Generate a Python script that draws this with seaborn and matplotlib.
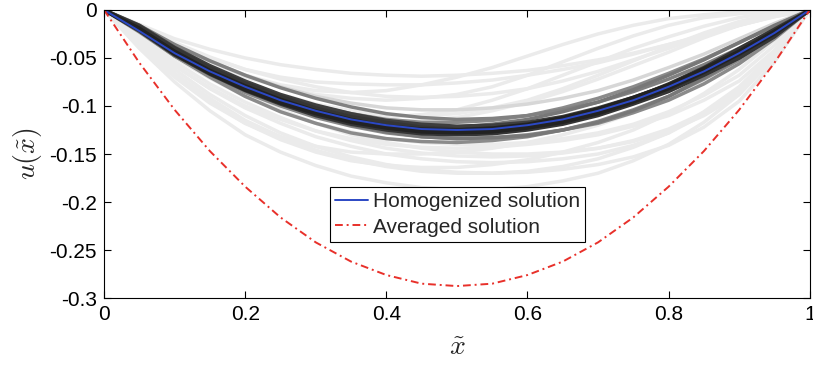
import numpy as np
import matplotlib
matplotlib.use("Agg")
import matplotlib.pyplot as plt
import seaborn as sns

x_vals = [0, 0.05, 0.1, 0.15, 0.2, 0.25, 0.3, 0.35, 0.4, 0.45, 0.5,
          0.55, 0.6, 0.65, 0.7, 0.75, 0.8, 0.85, 0.9, 0.95, 1]

# homogenized and averaged solutions
u_homog = [0, -0.022, -0.045, -0.064, -0.080, -0.094, -0.105, -0.114, -0.120, -0.124, -0.125,
           -0.124, -0.120, -0.114, -0.105, -0.094, -0.080, -0.064, -0.045, -0.024, 0]
u_avg = [0, -0.055, -0.104, -0.147, -0.184, -0.216, -0.242, -0.262, -0.276, -0.285, -0.2875,
         -0.285, -0.276, -0.262, -0.242, -0.216, -0.184, -0.147, -0.104, -0.055, 0]

# individual realizations
band_curves = [
    [0, -0.018, -0.040, -0.062, -0.079, -0.093, -0.104, -0.113, -0.119, -0.123, -0.125, -0.124, -0.121, -0.115, -0.107, -0.096, -0.083, -0.067, -0.048, -0.026, 0],
    [0, -0.020, -0.044, -0.066, -0.083, -0.097, -0.108, -0.117, -0.123, -0.127, -0.128, -0.127, -0.123, -0.117, -0.108, -0.096, -0.082, -0.065, -0.046, -0.025, 0],
    [0, -0.017, -0.040, -0.060, -0.076, -0.090, -0.102, -0.111, -0.117, -0.122, -0.124, -0.123, -0.120, -0.114, -0.106, -0.095, -0.082, -0.067, -0.050, -0.028, 0],
    [0, -0.021, -0.046, -0.066, -0.083, -0.096, -0.107, -0.115, -0.121, -0.124, -0.125, -0.123, -0.119, -0.112, -0.103, -0.091, -0.078, -0.061, -0.043, -0.022, 0],
    [0, -0.019, -0.043, -0.063, -0.079, -0.093, -0.105, -0.114, -0.121, -0.125, -0.127, -0.126, -0.122, -0.115, -0.106, -0.094, -0.080, -0.063, -0.044, -0.023, 0],
    [0, -0.022, -0.047, -0.067, -0.084, -0.098, -0.110, -0.119, -0.125, -0.129, -0.130, -0.129, -0.125, -0.119, -0.110, -0.098, -0.085, -0.068, -0.050, -0.027, 0],
    [0, -0.016, -0.039, -0.058, -0.074, -0.088, -0.099, -0.108, -0.115, -0.119, -0.121, -0.120, -0.117, -0.111, -0.102, -0.091, -0.078, -0.062, -0.045, -0.024, 0],
    [0, -0.020, -0.045, -0.065, -0.081, -0.095, -0.106, -0.115, -0.122, -0.125, -0.126, -0.125, -0.121, -0.114, -0.104, -0.092, -0.077, -0.060, -0.040, -0.020, 0],
]
mid_curves = [
    [0, -0.022, -0.048, -0.070, -0.090, -0.106, -0.118, -0.128, -0.134, -0.137, -0.138, -0.136, -0.132, -0.125, -0.116, -0.104, -0.090, -0.072, -0.052, -0.028, 0],
    [0, -0.016, -0.036, -0.053, -0.068, -0.081, -0.092, -0.101, -0.108, -0.112, -0.114, -0.113, -0.110, -0.104, -0.096, -0.085, -0.072, -0.057, -0.040, -0.021, 0],
    [0, -0.020, -0.042, -0.061, -0.078, -0.092, -0.104, -0.112, -0.118, -0.121, -0.122, -0.119, -0.114, -0.106, -0.096, -0.083, -0.068, -0.052, -0.034, -0.016, 0],
    [0, -0.023, -0.048, -0.068, -0.086, -0.100, -0.112, -0.121, -0.128, -0.132, -0.134, -0.133, -0.130, -0.125, -0.118, -0.107, -0.094, -0.077, -0.056, -0.030, 0],
    [0, -0.018, -0.040, -0.059, -0.076, -0.089, -0.100, -0.108, -0.114, -0.117, -0.117, -0.115, -0.110, -0.102, -0.092, -0.080, -0.066, -0.051, -0.034, -0.017, 0],
    [0, -0.021, -0.045, -0.065, -0.082, -0.097, -0.110, -0.120, -0.127, -0.132, -0.134, -0.133, -0.131, -0.125, -0.117, -0.105, -0.090, -0.071, -0.050, -0.026, 0],
]
outlier_curves = [
    [0, -0.015, -0.030, -0.041, -0.050, -0.057, -0.062, -0.066, -0.068, -0.069, -0.068, -0.066, -0.063, -0.058, -0.052, -0.045, -0.036, -0.027, -0.016, -0.007, 0],
    [0, -0.018, -0.036, -0.050, -0.062, -0.070, -0.075, -0.077, -0.078, -0.078, -0.076, -0.073, -0.068, -0.062, -0.055, -0.046, -0.036, -0.026, -0.016, -0.007, 0],
    [0, -0.020, -0.040, -0.056, -0.070, -0.080, -0.088, -0.092, -0.094, -0.092, -0.088, -0.080, -0.068, -0.054, -0.040, -0.027, -0.016, -0.008, -0.004, -0.001, 0],
    [0, -0.019, -0.041, -0.059, -0.075, -0.088, -0.098, -0.105, -0.110, -0.110, -0.108, -0.102, -0.094, -0.082, -0.068, -0.053, -0.038, -0.024, -0.012, -0.004, 0],
    [0, -0.022, -0.045, -0.065, -0.082, -0.095, -0.106, -0.112, -0.116, -0.115, -0.112, -0.105, -0.096, -0.085, -0.072, -0.058, -0.044, -0.029, -0.016, -0.006, 0],
    [0, -0.016, -0.034, -0.049, -0.062, -0.072, -0.080, -0.086, -0.090, -0.091, -0.090, -0.087, -0.082, -0.074, -0.064, -0.052, -0.040, -0.027, -0.014, -0.005, 0],
    [0, -0.017, -0.037, -0.053, -0.068, -0.080, -0.090, -0.097, -0.102, -0.104, -0.104, -0.102, -0.098, -0.092, -0.084, -0.073, -0.060, -0.046, -0.030, -0.014, 0],
    [0, -0.020, -0.043, -0.063, -0.080, -0.093, -0.104, -0.110, -0.112, -0.109, -0.104, -0.094, -0.082, -0.068, -0.054, -0.040, -0.028, -0.017, -0.008, -0.002, 0],
    [0, -0.018, -0.038, -0.055, -0.068, -0.078, -0.084, -0.086, -0.084, -0.078, -0.070, -0.060, -0.048, -0.036, -0.025, -0.016, -0.009, -0.005, -0.002, -0.001, 0],
    [0, -0.040, -0.075, -0.105, -0.130, -0.148, -0.162, -0.173, -0.180, -0.185, -0.187, -0.187, -0.184, -0.178, -0.170, -0.157, -0.140, -0.117, -0.088, -0.048, 0],
    [0, -0.034, -0.066, -0.092, -0.115, -0.132, -0.146, -0.156, -0.163, -0.168, -0.170, -0.170, -0.168, -0.163, -0.155, -0.143, -0.128, -0.106, -0.080, -0.044, 0],
    [0, -0.030, -0.058, -0.082, -0.102, -0.118, -0.132, -0.142, -0.150, -0.155, -0.158, -0.159, -0.158, -0.155, -0.150, -0.141, -0.128, -0.109, -0.085, -0.048, 0],
    [0, -0.036, -0.068, -0.095, -0.118, -0.135, -0.148, -0.157, -0.162, -0.164, -0.164, -0.161, -0.156, -0.148, -0.138, -0.125, -0.108, -0.087, -0.062, -0.032, 0],
    [0, -0.028, -0.054, -0.077, -0.096, -0.112, -0.126, -0.136, -0.144, -0.149, -0.152, -0.153, -0.152, -0.149, -0.144, -0.136, -0.124, -0.107, -0.084, -0.048, 0],
    [0, -0.026, -0.050, -0.071, -0.090, -0.105, -0.118, -0.127, -0.134, -0.138, -0.140, -0.140, -0.138, -0.134, -0.128, -0.119, -0.106, -0.089, -0.068, -0.037, 0],
    [0, -0.030, -0.058, -0.081, -0.100, -0.114, -0.126, -0.134, -0.140, -0.143, -0.144, -0.143, -0.140, -0.136, -0.130, -0.121, -0.110, -0.094, -0.074, -0.042, 0],
    [0, -0.038, -0.070, -0.097, -0.118, -0.132, -0.142, -0.148, -0.150, -0.150, -0.148, -0.144, -0.138, -0.130, -0.120, -0.107, -0.092, -0.073, -0.052, -0.027, 0],
    [0, -0.024, -0.048, -0.069, -0.088, -0.104, -0.118, -0.130, -0.138, -0.144, -0.148, -0.150, -0.150, -0.148, -0.144, -0.137, -0.126, -0.110, -0.088, -0.050, 0],
    [0, -0.032, -0.062, -0.088, -0.110, -0.128, -0.142, -0.153, -0.161, -0.166, -0.169, -0.170, -0.169, -0.166, -0.161, -0.153, -0.141, -0.122, -0.095, -0.054, 0],
]

x_ticks = [0, 0.2, 0.4, 0.6, 0.8, 1]
x_ticklabels = ["0", "0.2", "0.4", "0.6", "0.8", "1"]
y_ticks = [-0.3, -0.25, -0.2, -0.15, -0.1, -0.05, 0]
y_ticklabels = ["-0.3", "-0.25", "-0.2", "-0.15", "-0.1", "-0.05", "0"]

sns.set_style("ticks")
plt.rcParams["font.family"] = ["Liberation Sans", "DejaVu Sans"]
plt.rcParams["mathtext.fontset"] = "cm"
plt.rcParams["axes.unicode_minus"] = False

fig = plt.figure(figsize=(8.13, 3.68), dpi=100)
ax = fig.add_axes([0.128, 0.19, 0.868, 0.783])

# shade each realization by how far it strays from the homogenized curve
h = np.array(u_homog)
all_curves = band_curves + mid_curves + outlier_curves
devs = [np.max(np.abs(np.array(c) - h)) for c in all_curves]
order = np.argsort(devs)[::-1]
for i in order:
    g = 0.02 + 0.9 * min(devs[i] / 0.024, 1.0)
    sns.lineplot(x=x_vals, y=all_curves[i], ax=ax, color=(g, g, g),
                 lw=2.5, estimator=None, sort=False)

sns.lineplot(x=x_vals, y=u_homog, ax=ax, color="#2b48c4", lw=1.4,
             estimator=None, label="Homogenized solution")
sns.lineplot(x=x_vals, y=u_avg, ax=ax, color="#e8302a", lw=1.4,
             estimator=None, label="Averaged solution")
ax.lines[-1].set_linestyle((0, (4, 2, 1, 2)))

ax.set_xlim(0, 1)
ax.set_ylim(-0.3, 0)
ax.set_xticks(x_ticks)
ax.set_xticklabels(x_ticklabels)
ax.set_yticks(y_ticks)
ax.set_yticklabels(y_ticklabels)
ax.tick_params(direction="in", top=True, right=True, length=5, width=0.8,
               labelsize=15, colors="black", pad=5)
for s in ax.spines.values():
    s.set_color("black")
    s.set_linewidth(0.8)

ax.set_xlabel(r"$\tilde{x}$", fontsize=20, labelpad=8)
ax.set_ylabel(r"$u(\tilde{x})$", fontsize=20, labelpad=4)

leg = ax.legend(loc="upper left", bbox_to_anchor=(0.32, 0.385), fontsize=15,
                frameon=True, fancybox=False, edgecolor="black",
                handlelength=1.6, handletextpad=0.2, borderpad=0.25,
                labelspacing=0.3, borderaxespad=0)
leg.get_frame().set_linewidth(0.8)
leg.get_frame().set_alpha(1)
leg.get_lines()[1].set_linestyle((0, (4, 2, 1, 2)))

fig.savefig("out.png", dpi=100)
